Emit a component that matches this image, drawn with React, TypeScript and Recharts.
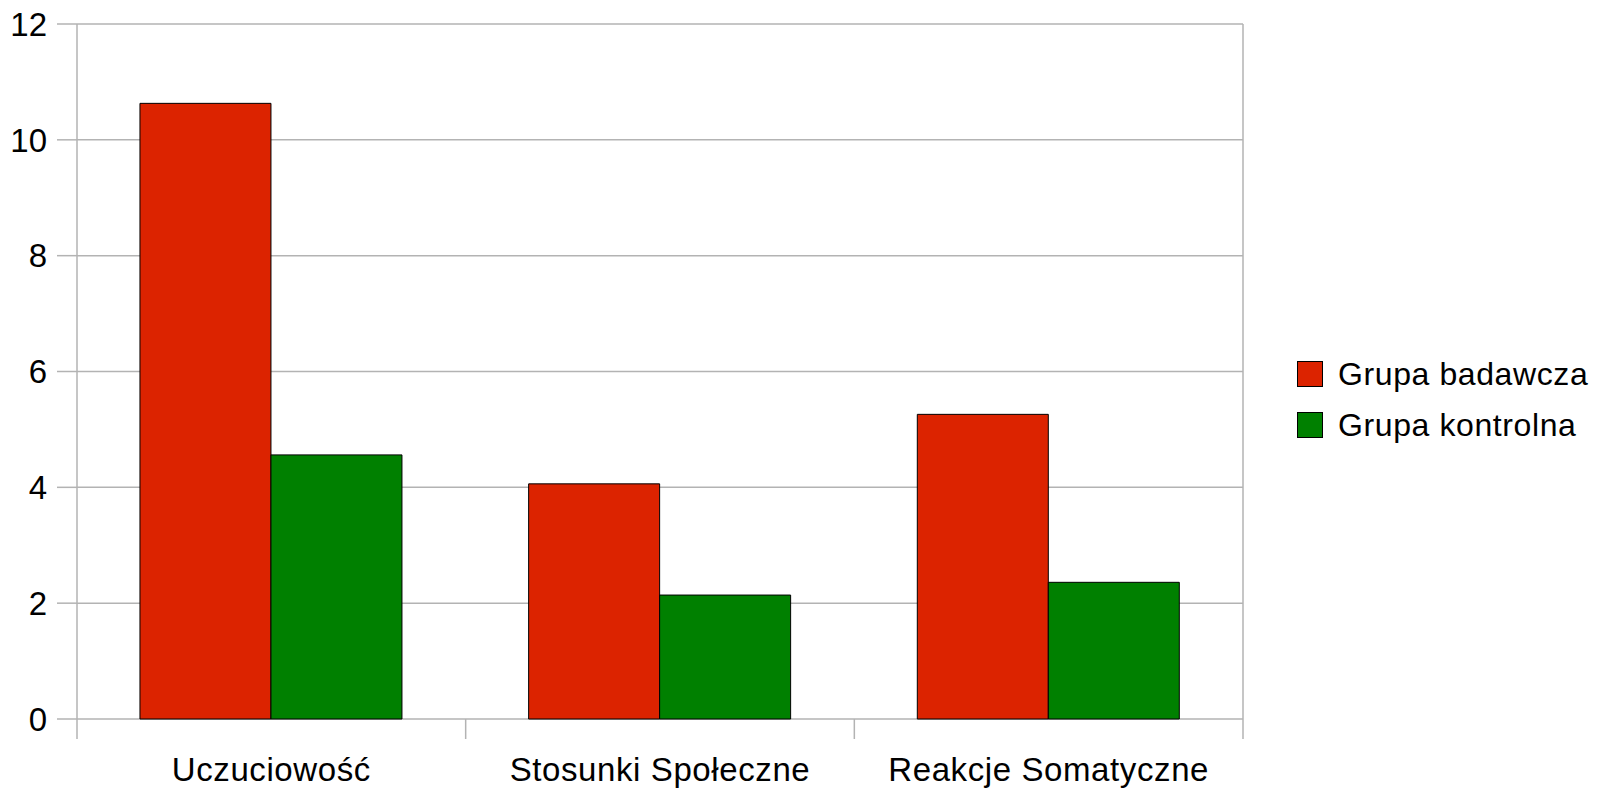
import React from 'react';
import { BarChart, Bar, XAxis, YAxis, CartesianGrid } from 'recharts';

const categories = ['Uczuciowość', 'Stosunki Społeczne', 'Reakcje Somatyczne'];
const badawcza = [10.63, 4.06, 5.26];
const kontrolna = [4.56, 2.14, 2.36];
const yTicks = [0, 2, 4, 6, 8, 10, 12];

const seriesNames = ['Grupa badawcza', 'Grupa kontrolna'];
const RED = '#dc2300';
const GREEN = '#008000';
const GRID = '#b3b3b3';
const FONT = '"Liberation Sans", Arial, sans-serif';

const data = categories.map((name, i) => ({
    name,
    badawcza: badawcza[i],
    kontrolna: kontrolna[i],
}));

// category label plus the separator ticks between categories
const CategoryTick = (props: any) => {
    const { x, y, payload, index, width, visibleTicksCount } = props;
    const half = payload?.offset || (width / (visibleTicksCount || categories.length)) / 2;
    const isLast = index === categories.length - 1;
    return (
        <g>
            <line x1={x - half} x2={x - half} y1={y - 20} y2={y} stroke={GRID} strokeWidth={1.5} />
            {isLast && <line x1={x + half} x2={x + half} y1={y - 20} y2={y} stroke={GRID} strokeWidth={1.5} />}
            <text x={x} y={y + 42} textAnchor="middle" fill="#000" fontSize={33} fontFamily={FONT} letterSpacing={0.6}>
                {payload.value}
            </text>
        </g>
    );
};

const LegendBox = () => (
    <div style={{ position: 'absolute', left: 1297, top: 348, fontFamily: FONT }}>
        {[RED, GREEN].map((c, i) => (
            <div key={i} style={{ display: 'flex', alignItems: 'center', height: 51 }}>
                <div style={{ width: 24, height: 24, background: c, border: '1px solid #000', marginRight: 15 }} />
                <span style={{ fontSize: 32, letterSpacing: 0.6, color: '#000', lineHeight: 1, whiteSpace: 'nowrap' }}>
                    {seriesNames[i]}
                </span>
            </div>
        ))}
    </div>
);

export default function App() {
    return (
        <div style={{ position: 'absolute', left: 0, top: 0, width: 1614, height: 790, background: '#fff' }}>
            <BarChart
                width={1614}
                height={790}
                data={data}
                margin={{ top: 24, right: 370, bottom: 0, left: 0 }}
                barCategoryGap="16.2%"
                barGap={0}
            >
                <CartesianGrid vertical={false} stroke={GRID} strokeWidth={1.5} />
                <XAxis
                    dataKey="name"
                    height={71}
                    axisLine={false}
                    tickLine={false}
                    tickSize={20}
                    tickMargin={0}
                    tick={<CategoryTick />}
                    interval={0}
                />
                <YAxis
                    width={77}
                    domain={[0, 12]}
                    ticks={yTicks}
                    axisLine={{ stroke: GRID, strokeWidth: 1.5 }}
                    tickLine={{ stroke: GRID, strokeWidth: 1.5 }}
                    tickSize={20}
                    tickMargin={10}
                    tick={{ fill: '#000', fontSize: 33, fontFamily: FONT }}
                />
                <YAxis
                    yAxisId="right"
                    orientation="right"
                    width={1}
                    domain={[0, 12]}
                    tick={false}
                    tickLine={false}
                    axisLine={{ stroke: GRID, strokeWidth: 1.5 }}
                />
                <Bar dataKey="badawcza" name={seriesNames[0]} fill={RED} stroke="#000" strokeWidth={1} isAnimationActive={false} />
                <Bar dataKey="kontrolna" name={seriesNames[1]} fill={GREEN} stroke="#000" strokeWidth={1} isAnimationActive={false} />
            </BarChart>
            <LegendBox />
        </div>
    );
}
